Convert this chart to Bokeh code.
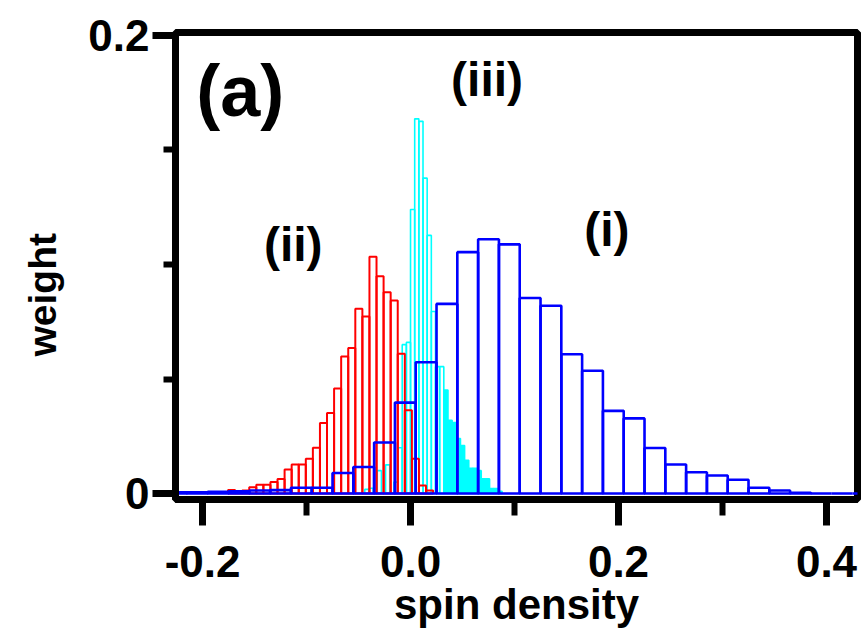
import numpy as np
from bokeh.plotting import figure
from bokeh.models import Range1d, FixedTicker, Label, PrintfTickFormatter, Title
from bokeh.embed import file_html
from bokeh.resources import INLINE

# ---------------- data ----------------
# (i) blue histogram
blue_start = -0.235
blue_width = 0.02
blue_weight = [0.0005, 0.0005, 0.0008, 0.001, 0.0013, 0.0015, 0.0025, 0.0025,
               0.009, 0.0116, 0.0223, 0.0397, 0.0573, 0.0828, 0.1054, 0.111,
               0.1088, 0.0854, 0.082, 0.0608, 0.0536, 0.0361, 0.0328, 0.0199,
               0.0127, 0.0093, 0.0079, 0.006, 0.0025, 0.0013, 0.0003, 0.0, 0.0, 0.0]

# (ii) red histogram
red_start = -0.1755
red_width = 0.0068
red_weight = [0.0016, 0.0, 0.0013, 0.0028, 0.0038, 0.0038, 0.005, 0.0064,
              0.0105, 0.0127, 0.0127, 0.0152, 0.02, 0.0308, 0.0352, 0.0459,
              0.0598, 0.0635, 0.0807, 0.0773, 0.1034, 0.0949, 0.0879, 0.0843,
              0.061, 0.0364, 0.0152, 0.0035, 0.0013]

# (iii) cyan histogram
cyan_start = -0.044
cyan_width = 0.004
cyan_weight = [0.0018, 0.0023, 0.0, 0.010, 0.0, 0.0125, 0.0, 0.005, 0.02,
               0.065, 0.066, 0.124, 0.1636, 0.1625, 0.1377, 0.1127, 0.0795,
               0.0554, 0.0554, 0.0452, 0.032, 0.031, 0.024, 0.021, 0.0145,
               0.011, 0.011, 0.010, 0.0064, 0.0064, 0.0022, 0.0022, 0.001]
cyan_fill_from = 0.032   # the dense tail of (iii) looks solid

x_ticks = [-0.2, 0.0, 0.2, 0.4]
x_minor = [-0.1, 0.1, 0.3]
y_ticks = [0.0, 0.2]
y_minor = [0.05, 0.1, 0.15]

x_title = "spin density"
y_title = "weight"

labels = [("(a)", -0.206, 0.1757, 72),
          ("(iii)", 0.039, 0.1809, 48),
          ("(ii)", -0.141, 0.1089, 48),
          ("(i)", 0.167, 0.1154, 48)]

# ---------------- figure ----------------
FONT = "Liberation Sans"
p = figure(width=861, height=632, output_backend="svg", toolbar_location=None,
           x_range=Range1d(-0.226, 0.4298), y_range=Range1d(-0.0026, 0.2013),
           min_border_left=175, min_border_right=4, min_border_top=32,
           min_border_bottom=133)
p.background_fill_color = "white"
p.border_fill_color = "white"
p.xgrid.visible = False
p.ygrid.visible = False
p.outline_line_color = "black"
p.outline_line_width = 7


def bars(start, width, weights):
    w = np.asarray(weights, dtype=float)
    left = start + width * np.arange(len(w))
    return left, left + width, w


cl, cr, cw = bars(cyan_start, cyan_width, cyan_weight)
core = cl < cyan_fill_from - 1e-9
p.quad(left=cl[core], right=cr[core], bottom=0, top=cw[core],
       fill_color=None, line_color="#00FFFF", line_width=1.6)
p.quad(left=cl[~core], right=cr[~core], bottom=0, top=cw[~core],
       fill_color="#00FFFF", line_color="#00FFFF", line_width=1.6)

rl, rr, rw = bars(red_start, red_width, red_weight)
p.quad(left=rl, right=rr, bottom=0, top=rw,
       fill_color=None, line_color="#FF0000", line_width=2)

bl, br, bw = bars(blue_start, blue_width, blue_weight)
p.quad(left=bl, right=br, bottom=0, top=bw,
       fill_color=None, line_color="#0000FF", line_width=2.6)

for txt, x, y, fs in labels:
    p.add_layout(Label(x=x, y=y, text=txt, text_font=FONT,
                       text_font_style="bold", text_font_size=f"{fs}px",
                       text_color="black", text_baseline="alphabetic"))

# axes
for ax in (p.xaxis[0], p.yaxis[0]):
    ax.axis_line_width = 7
    ax.axis_line_color = "black"
    ax.major_tick_line_width = 7
    ax.minor_tick_line_width = 6
    ax.major_tick_line_color = "black"
    ax.minor_tick_line_color = "black"
    ax.major_tick_in = 0
    ax.minor_tick_in = 0
    ax.major_label_text_font = FONT
    ax.major_label_text_font_style = "bold"
    ax.major_label_text_font_size = "44px"
    ax.major_label_text_color = "black"
    ax.axis_label_text_font = FONT
    ax.axis_label_text_font_style = "bold"
    ax.axis_label_text_color = "black"

p.xaxis.ticker = FixedTicker(ticks=x_ticks, minor_ticks=x_minor)
p.xaxis.formatter = PrintfTickFormatter(format="%.1f")
p.xaxis.major_tick_out = 26
p.xaxis.minor_tick_out = 16
p.xaxis.major_label_standoff = 20
p.xaxis.axis_label = x_title
p.xaxis.axis_label_text_font_size = "42px"
p.xaxis.axis_label_standoff = 1

p.yaxis.ticker = FixedTicker(ticks=y_ticks, minor_ticks=y_minor)
p.yaxis.major_label_overrides = {0: "0", 0.2: "0.2"}
p.yaxis.major_tick_out = 23
p.yaxis.minor_tick_out = 12
p.yaxis.major_label_standoff = 3

# y title: a left-side title, so it can sit a little below the frame centre
p.add_layout(Title(text=y_title, align="left", vertical_align="top",
                   offset=143, standoff=40, text_font=FONT,
                   text_font_style="bold", text_font_size="39px",
                   text_color="black"), "left")

open("out.html", "w").write(file_html(p, INLINE))
